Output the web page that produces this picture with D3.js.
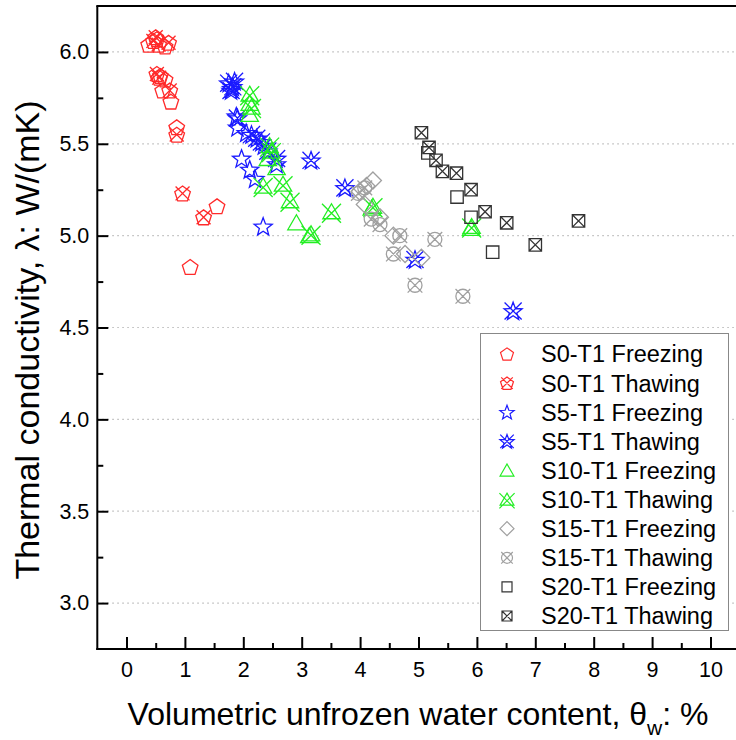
<!DOCTYPE html>
<html><head><meta charset="utf-8">
<script src="https://cdn.jsdelivr.net/npm/d3@7"></script>
<style>body{margin:0;background:#fff}svg{display:block}text{font-family:"Liberation Sans",Arial,sans-serif}</style>
</head><body>
<svg id="c" width="736" height="740"></svg>
<script>
// ---- data ----
const s0Freezing = [[0.38,6.04],[0.52,6.07],[0.66,6.03],[0.58,5.87],[0.66,5.85],[0.62,5.79],[0.76,5.73],[0.86,5.59],[1.55,5.16],[1.09,4.83]];
const s0Thawing  = [[0.46,6.06],[0.55,6.04],[0.50,6.08],[0.72,6.05],[0.52,5.88],[0.56,5.86],[0.74,5.79],[0.86,5.55],[0.96,5.23],[1.32,5.10]];
const s5Freezing = [[1.80,5.80],[1.88,5.65],[1.90,5.59],[2.05,5.56],[1.97,5.42],[2.11,5.36],[2.20,5.31],[2.34,5.05],[2.35,5.49],[2.57,5.39]];
const s5Thawing  = [[1.75,5.83],[1.82,5.81],[1.79,5.79],[1.85,5.84],[1.90,5.64],[2.14,5.55],[2.23,5.53],[2.31,5.51],[2.42,5.46],[2.57,5.42],[3.16,5.41],[3.74,5.26],[4.94,4.87],[6.62,4.59]];
const s10Freezing = [[2.11,5.72],[2.11,5.66],[2.42,5.42],[2.57,5.37],[2.91,5.07],[3.13,5.00],[4.20,5.15],[5.90,5.04]];
const s10Thawing  = [[2.11,5.77],[2.14,5.70],[2.45,5.49],[2.48,5.46],[2.34,5.27],[2.68,5.28],[2.80,5.19],[3.16,5.01],[3.51,5.13],[4.22,5.16],[5.91,5.05]];
const s15Freezing = [[3.99,5.24],[4.11,5.27],[4.22,5.30],[4.08,5.17],[4.34,5.10],[4.57,5.00],[4.77,4.90],[5.05,4.88]];
const s15Thawing  = [[3.97,5.23],[4.08,5.26],[4.19,5.09],[4.34,5.06],[4.68,5.00],[5.28,4.98],[4.57,4.90],[4.94,4.73],[5.76,4.67]];
const s20Freezing = [[5.16,5.45],[5.66,5.21],[5.90,5.10],[6.27,4.91]];
const s20Thawing  = [[5.05,5.56],[5.18,5.48],[5.30,5.41],[5.41,5.35],[5.65,5.34],[5.90,5.25],[6.14,5.13],[6.51,5.07],[7.00,4.95],[7.74,5.08]];

const seriesNames = ["S0-T1 Freezing","S0-T1 Thawing","S5-T1 Freezing","S5-T1 Thawing","S10-T1 Freezing","S10-T1 Thawing","S15-T1 Freezing","S15-T1 Thawing","S20-T1 Freezing","S20-T1 Thawing"];
const seriesData = [s0Freezing,s0Thawing,s5Freezing,s5Thawing,s10Freezing,s10Thawing,s15Freezing,s15Thawing,s20Freezing,s20Thawing];
const seriesColors = ["#ff2a2a","#ff2a2a","#1a1aff","#1a1aff","#22ee22","#22ee22","#a0a0a0","#a0a0a0","#333333","#333333"];
const seriesShapes = ["pentagon","pentagonX","star","starX","triangle","triangleX","diamond","circleX","square","squareX"];
const xTicks = [0,1,2,3,4,5,6,7,8,9,10];
const yTicks = [3.0,3.5,4.0,4.5,5.0,5.5,6.0];
const xTitle = "Volumetric unfrozen water content, θ";
const yTitle = "Thermal conductivity, λ: W/(mK)";

// ---- layout ----
const svg = d3.select("#c");
const x = d3.scaleLinear().domain([-0.5,10.5]).range([97.3,739.7]);
const y = d3.scaleLinear().domain([2.75,6.25]).range([649,6]);

// grid
svg.append("g").selectAll("line").data(yTicks).join("line")
  .attr("x1",x(-0.5)).attr("x2",736).attr("y1",d=>y(d)).attr("y2",d=>y(d))
  .attr("stroke","#b8b8b8").attr("stroke-width",1.2).attr("stroke-dasharray","1.5,3.5");

// axes
const xAxis = d3.axisBottom(x).tickValues(xTicks).tickSize(-12).tickPadding(13).tickFormat(d3.format("d"));
const xMinor = d3.axisBottom(x).tickValues(d3.range(0.5,10.5,1)).tickSize(-6).tickFormat("");
const yAxis = d3.axisLeft(y).tickValues(yTicks).tickSize(-11).tickPadding(8).tickFormat(d3.format(".1f"));
const yMinor = d3.axisLeft(y).tickValues(d3.range(3.25,6.25,0.5)).tickSize(-6).tickFormat("");
function style(g){g.select(".domain").remove();g.selectAll("line").attr("stroke","#000").attr("stroke-width",2);
  g.selectAll("text").attr("font-size",21.5).attr("fill","#000").attr("font-family","Liberation Sans, Arial, sans-serif");}
svg.append("g").attr("transform",`translate(0,${y(2.75)})`).call(xAxis).call(style);
svg.append("g").attr("transform",`translate(0,${y(2.75)})`).call(xMinor).call(style);
svg.append("g").attr("transform",`translate(${x(-0.5)},0)`).call(yAxis).call(style);
svg.append("g").attr("transform",`translate(${x(-0.5)},0)`).call(yMinor).call(style);
// frame lines
svg.append("line").attr("x1",x(-0.5)).attr("x2",x(-0.5)).attr("y1",y(6.25)).attr("y2",y(2.75)+1).attr("stroke","#000").attr("stroke-width",2);
svg.append("line").attr("x1",x(-0.5)-1).attr("x2",736).attr("y1",y(2.75)).attr("y2",y(2.75)).attr("stroke","#000").attr("stroke-width",2);
svg.append("line").attr("x1",x(-0.5)-1).attr("x2",736).attr("y1",y(6.25)).attr("y2",y(6.25)).attr("stroke","#000").attr("stroke-width",2);

// titles
const xt = svg.append("text").attr("x",418).attr("y",725).attr("text-anchor","middle").attr("font-size",32);
xt.append("tspan").text(xTitle);
xt.append("tspan").attr("font-size",21).attr("dy",10).text("w");
xt.append("tspan").attr("dy",-10).text(": %");
svg.append("text").attr("transform","translate(39,340) rotate(-90)").attr("text-anchor","middle").attr("font-size",34).text(yTitle);

// ---- symbols ----
function shapePath(shape, r){
  const p = d3.path();
  const base = shape.replace("X","");
  if(base==="pentagon"){
    for(let k=0;k<5;k++){const a=-Math.PI/2+k*2*Math.PI/5;const px=r*Math.cos(a),py=r*Math.sin(a)+r*0.1;k?p.lineTo(px,py):p.moveTo(px,py);}p.closePath();
  } else if(base==="star"){
    for(let k=0;k<10;k++){const a=-Math.PI/2+k*Math.PI/5;const rr=k%2?r*0.42:r;const px=rr*Math.cos(a),py=rr*Math.sin(a)+r*0.08;k?p.lineTo(px,py):p.moveTo(px,py);}p.closePath();
  } else if(base==="triangle"){
    for(let k=0;k<3;k++){const a=-Math.PI/2+k*2*Math.PI/3;const px=r*Math.cos(a),py=r*Math.sin(a)+r*0.2;k?p.lineTo(px,py):p.moveTo(px,py);}p.closePath();
  } else if(base==="diamond"){
    p.moveTo(0,-r);p.lineTo(r,0);p.lineTo(0,r);p.lineTo(-r,0);p.closePath();
  } else if(base==="square"){
    p.rect(-r,-r,2*r,2*r);
  } else if(base==="circle"){
    p.moveTo(r,0);p.arc(0,0,r,0,2*Math.PI);
  }
  if(shape.endsWith("X")){
    let e = r;
    if(base==="pentagon") e=r*0.85;
    if(base==="star") e=r*0.9;
    if(base==="triangle") e=r*0.95;
    if(base==="circle") e=r*1.05;
    const oy = base==="triangle"? r*0.15 : 0;
    p.moveTo(-e,-e+oy);p.lineTo(e,e+oy);p.moveTo(e,-e+oy);p.lineTo(-e,e+oy);
  }
  return p.toString();
}
const markerSize = {pentagon:8.2,star:9.5,triangle:10,diamond:8.5,square:6.2,circle:7};
const legendSize = {pentagon:6.8,star:7.5,triangle:8,diamond:7,square:5,circle:5.5};

const plot = svg.append("g");
seriesData.forEach((data,i)=>{
  const shape = seriesShapes[i], base = shape.replace("X","");
  plot.append("g").selectAll("path").data(data).join("path")
    .attr("transform",d=>`translate(${x(d[0])},${y(d[1])})`)
    .attr("d",shapePath(shape,markerSize[base]))
    .attr("fill","none").attr("stroke",seriesColors[i]).attr("stroke-width",1.3);
});

// legend
const lg = svg.append("g");
lg.append("rect").attr("x",480.5).attr("y",333.5).attr("width",248).attr("height",297).attr("fill","#fff").attr("stroke","#888").attr("stroke-width",1);
const ly = d3.scaleLinear().domain([0,9]).range([354,616]);
seriesNames.forEach((name,i)=>{
  const shape = seriesShapes[i], base = shape.replace("X","");
  lg.append("path").attr("transform",`translate(507,${ly(i)})`).attr("d",shapePath(shape,legendSize[base]))
    .attr("fill","none").attr("stroke",seriesColors[i]).attr("stroke-width",1.2);
  lg.append("text").attr("x",541).attr("y",ly(i)).attr("dy","0.36em").attr("font-size",23.5).attr("fill","#000").text(name);
});
</script>
</body></html>
